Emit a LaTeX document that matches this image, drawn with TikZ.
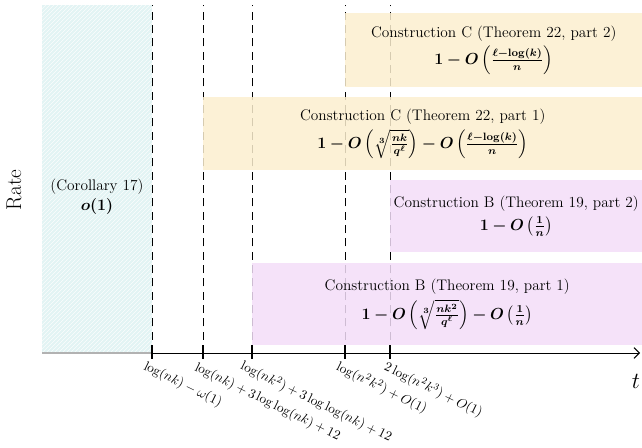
\documentclass[tikz,border=0pt]{standalone}
\usepackage{amsmath}
\usepackage{bm}
\usepackage{tikz}
\usetikzlibrary{patterns,arrows.meta}

\definecolor{cbox}{HTML}{FCEFCF}
\definecolor{bbox}{HTML}{F3DDF8}
\definecolor{obox}{HTML}{E2F4F4}

\begin{document}
\begin{tikzpicture}[x=0.75pt,y=-0.75pt,
    region/.style={draw=none, fill=#1, fill opacity=0.85, text opacity=1,
      anchor=north west, align=center, inner sep=0pt,
      font=\fontsize{11.5}{14}\selectfont},
    bound/.style={dashed, dash pattern=on 6pt off 4pt, line width=0.7pt},
    ticklabel/.style={anchor=north west, rotate=-26, inner sep=1pt, font=\normalsize}]
  \useasboundingbox (0,0) rectangle (642,447);

  % thresholds on the t axis
  \coordinate (t1) at (152,353);
  \coordinate (t2) at (203,353);
  \coordinate (t3) at (252,353);
  \coordinate (t4) at (345,353);
  \coordinate (t5) at (390,353);
  \coordinate (tend) at (640,353);

  % small-t region
  \fill[obox] (42,5) rectangle (t1);
  \fill[pattern=north east lines, pattern color=white!85!obox] (42,5) rectangle (t1);
  \draw[gray!60, line width=0.8pt] (42,353) -- (t1);
  \node[align=center, font=\fontsize{11.5}{15}\selectfont] (cor) at (97,197)
    {(Corollary 17)\\ $\bm{o(1)}$};

  % dashed boundaries
  \foreach \i in {1,...,5} {
    \draw[bound] (t\i) -- ++(0,-348);
  }

  % constructions
  \node[region=cbox, minimum width=222.75pt, minimum height=55.5pt] (c2) at (345,13)
    {Construction C (Theorem 22, part 2)\\[3pt]
     $\bm{1-O\left(\frac{\ell-\log(k)}{n}\right)}$};
  \node[region=cbox, minimum width=329.25pt, minimum height=54.75pt] (c1) at (203,97)
    {Construction C (Theorem 22, part 1)\\[3pt]
     $\bm{1-O\left(\sqrt[3]{\frac{nk}{q^{\ell}}}\right)-O\left(\frac{\ell-\log(k)}{n}\right)}$};
  \node[region=bbox, minimum width=189pt, minimum height=54pt] (b2) at (390,180)
    {Construction B (Theorem 19, part 2)\\[3pt]
     $\bm{1-O\left(\frac{1}{n}\right)}$};
  \node[region=bbox, minimum width=292.5pt, minimum height=61.5pt] (b1) at (252,263)
    {Construction B (Theorem 19, part 1)\\[3pt]
     $\bm{1-O\left(\sqrt[3]{\frac{nk^2}{q^{\ell}}}\right)-O\left(\frac{1}{n}\right)}$};

  % axis
  \draw[-{Straight Barb[length=4pt]}, line width=0.7pt] (t1) -- (tend);
  \foreach \i in {1,...,5} {
    \draw[line width=0.8pt] (t\i) ++(0,-8) -- ++(0,14);
  }
  \node[font=\fontsize{16}{19}\selectfont, rotate=90] (rate) at (14,190) {Rate};
  \node[font=\fontsize{17}{20}\selectfont] (tlab) at (636,381) {$t$};

  % threshold labels
  \node[ticklabel] (l1) at ([xshift=-4]t1 |- 0,358) {$\log(nk)-\omega(1)$};
  \node[ticklabel] (l2) at ([xshift=-4]t2 |- 0,359) {$\log(nk)+3\log\log(nk)+12$};
  \node[ticklabel] (l3) at ([xshift=-6]t3 |- 0,357) {$\log(nk^2)+3\log\log(nk)+12$};
  \node[ticklabel] (l4) at ([xshift=-4]t4 |- 0,358) {$\log(n^2k^2)+O(1)$};
  \node[ticklabel] (l5) at ([xshift=-2]t5 |- 0,358) {$2\log(n^2k^3)+O(1)$};
\end{tikzpicture}
\end{document}
